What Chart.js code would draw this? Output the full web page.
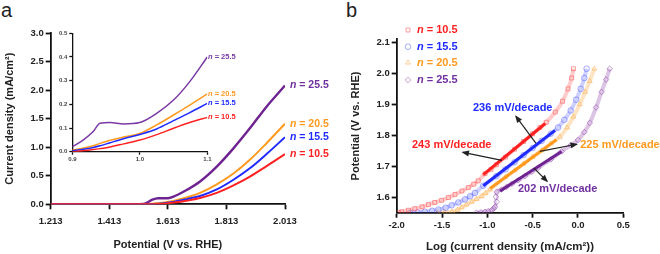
<!DOCTYPE html>
<html>
<head>
<meta charset="utf-8">
<script src="https://cdn.jsdelivr.net/npm/chart.js@4.4.0/dist/chart.umd.min.js"></script>
<style>
body { margin:0; background:#fff; width:660px; height:254px; overflow:hidden; position:relative; font-family:"Liberation Sans", Arial, sans-serif; }
canvas { position:absolute; }
#chart_a { left:0; top:0; }
#chart_inset { left:40px; top:26px; }
#chart_b { left:330px; top:0; }
.panel { position:absolute; font-size:20px; line-height:24px; color:#222; }
</style>
</head>
<body>
<div class="panel" style="left:1px;top:-2px">a</div>
<div class="panel" style="left:346px;top:-2px">b</div>
<canvas id="chart_a" width="330" height="254"></canvas>
<canvas id="chart_inset" width="210" height="140"></canvas>
<canvas id="chart_b" width="330" height="254"></canvas>
<script>
var FONT = '"Liberation Sans", Arial, sans-serif'
Chart.defaults.font.family = FONT
Chart.defaults.color = '#222'

// series names
var nValues = ['10.5', '15.5', '20.5', '25.5']
var cores = ['#ff2121', '#1f2bff', '#ff9a1f', '#6e2390']
var textCores = ['#ff2121', '#1f2bff', '#ff9a1f', '#7030a0']
var coresLight = ['rgba(255,70,70,0.5)', 'rgba(60,70,255,0.45)', 'rgba(255,165,60,0.5)', 'rgba(140,60,170,0.5)']
var bandCores = ['rgba(255,70,70,0.28)', 'rgba(60,70,255,0.25)', 'rgba(255,165,60,0.3)', 'rgba(140,60,170,0.3)']
var markers = ['rect', 'circle', 'triangle', 'rectRot']

// panel a - main (potential V vs RHE, current density mA/cm2)
var potA = [1.213, 1.40, 1.50, 1.53, 1.56, 1.58, 1.61, 1.632, 1.677, 1.723, 1.78, 1.837, 1.893, 1.95, 2.013]
var curA_10 = [0, 0, 0, 0, 0, 0.005, 0.015, 0.03, 0.064, 0.11, 0.2, 0.33, 0.485, 0.67, 0.88]
var curA_15 = [0, 0, 0, 0, 0.003, 0.01, 0.025, 0.04, 0.09, 0.146, 0.26, 0.43, 0.63, 0.88, 1.175]
var curA_20 = [0, 0, 0, 0, 0.008, 0.02, 0.04, 0.06, 0.12, 0.20, 0.35, 0.54, 0.78, 1.07, 1.41]
var curA_25 = [0, 0, 0, 0.005, 0.08, 0.105, 0.105, 0.135, 0.25, 0.40, 0.66, 0.98, 1.33, 1.71, 2.08]
var xTicksA = [1.213, 1.413, 1.613, 1.813, 2.013]
var yTicksA = [0, 0.5, 1.0, 1.5, 2.0, 2.5, 3.0]

// panel a - inset
var potI = [0.9, 0.916, 0.931, 0.941, 0.956, 0.976, 1.0, 1.025, 1.05, 1.074, 1.1]
var curI_10 = [0, 0.004, 0.009, 0.013, 0.02, 0.033, 0.049, 0.072, 0.099, 0.123, 0.145]
var curI_15 = [0.004, 0.01, 0.018, 0.025, 0.038, 0.055, 0.073, 0.096, 0.131, 0.165, 0.204]
var curI_20 = [0.007, 0.015, 0.025, 0.035, 0.048, 0.062, 0.077, 0.113, 0.155, 0.197, 0.244]
var curI_25 = [0.021, 0.049, 0.085, 0.12, 0.123, 0.117, 0.123, 0.162, 0.218, 0.296, 0.4]
var xTicksI = [0.9, 1.0, 1.1]
var yTicksI = [0, 0.1, 0.2, 0.3, 0.4, 0.5]

// panel b - Tafel (log current density, potential)
var logB_10 = [-1.98, -1.945, -1.87, -1.8, -1.72, -1.65, -1.58, -1.504, -1.43, -1.357, -1.28, -1.21, -1.15, -1.1, -1.026, -0.96, -0.9, -0.8, -0.7, -0.6, -0.5, -0.42, -0.35, -0.25, -0.17, -0.11, -0.07, -0.05]
var potB_10 = [1.55, 1.553, 1.558, 1.563, 1.569, 1.576, 1.583, 1.59, 1.599, 1.609, 1.62, 1.631, 1.642, 1.653, 1.676, 1.69, 1.705, 1.73, 1.755, 1.78, 1.805, 1.825, 1.842, 1.875, 1.91, 1.95, 1.985, 2.015]
var logB_15 = [-1.85, -1.77, -1.69, -1.61, -1.54, -1.46, -1.393, -1.32, -1.247, -1.19, -1.136, -1.045, -0.9, -0.8, -0.7, -0.6, -0.5, -0.4, -0.3, -0.22, -0.15, -0.08, -0.02, 0.03, 0.07, 0.095]
var potB_15 = [1.55, 1.551, 1.553, 1.556, 1.56, 1.566, 1.574, 1.583, 1.593, 1.603, 1.614, 1.637, 1.668, 1.69, 1.713, 1.736, 1.759, 1.782, 1.805, 1.825, 1.85, 1.88, 1.915, 1.95, 1.985, 2.015]
var logB_20 = [-1.55, -1.47, -1.39, -1.33, -1.283, -1.23, -1.173, -1.12, -1.063, -1.02, -0.97, -0.8, -0.7, -0.6, -0.5, -0.4, -0.3, -0.2, -0.12, -0.05, 0.02, 0.08, 0.13, 0.18]
var potB_20 = [1.55, 1.551, 1.553, 1.559, 1.567, 1.576, 1.585, 1.594, 1.603, 1.613, 1.625, 1.665, 1.686, 1.708, 1.73, 1.751, 1.773, 1.795, 1.825, 1.86, 1.9, 1.94, 1.975, 2.015]
var logB_25 = [-1.12, -1.07, -1.026, -0.99, -0.953, -0.93, -0.916, -0.897, -0.905, -0.897, -0.842, -0.79, -0.73, -0.66, -0.585, -0.51, -0.44, -0.3, -0.18, -0.08, 0.0, 0.07, 0.13, 0.2, 0.26, 0.31, 0.35]
var potB_25 = [1.55, 1.551, 1.553, 1.555, 1.558, 1.563, 1.569, 1.585, 1.601, 1.617, 1.625, 1.633, 1.643, 1.655, 1.668, 1.682, 1.695, 1.722, 1.748, 1.768, 1.785, 1.81, 1.84, 1.89, 1.94, 1.98, 2.015]
// linear fits (start, end)
var fitLog = [[-1.044, -0.36], [-1.045, -0.253], [-0.97, -0.236], [-0.86, -0.18]]
var fitPot = [[1.673, 1.838], [1.637, 1.816], [1.628, 1.786], [1.62, 1.748]]
var slopes = ['243 mV/decade', '236 mV/decade', '225 mV/decade', '202 mV/decade']
var xTicksB = [-2.0, -1.5, -1.0, -0.5, 0.0, 0.5]
var yTicksB = [1.6, 1.7, 1.8, 1.9, 2.0, 2.1]

// where the slope notes sit (data units)
var notes = [
    { text: [-1.393, 1.768], align: 'center', from: [-0.839, 1.719], to: [-1.269, 1.745] },
    { text: [-0.72, 1.889], align: 'center', from: [-0.463, 1.774], to: [-0.684, 1.861] },
    { text: [0.025, 1.768], align: 'left', from: [-0.42, 1.748], to: [-0.015, 1.771] },
    { text: [-0.224, 1.628], align: 'center', from: [-0.486, 1.694], to: [-0.342, 1.652] }
]

function pts(xs, ys) {
    return xs.map(function(x, i) { return { x: x, y: ys[i] } })
}

function drawN(ctx, x, y, val, color, size) {
    ctx.fillStyle = color
    ctx.textBaseline = 'middle'
    ctx.textAlign = 'left'
    ctx.font = 'italic bold ' + size + 'px ' + FONT
    ctx.fillText('n', x, y)
    var w = ctx.measureText('n').width
    ctx.font = 'bold ' + size + 'px ' + FONT
    ctx.fillText(' = ' + val, x + w, y)
}

function axisStyle(tickLen, width) {
    return {
        grid: { display: true, drawOnChartArea: false, drawTicks: true, tickLength: tickLen, tickWidth: width, color: '#111' },
        border: { display: true, color: '#111', width: width }
    }
}

function setTicks(list) {
    return function(s) { s.ticks = list.map(function(v) { return { value: v } }) }
}

// ---------- panel a ----------
var curA = [curA_10, curA_15, curA_20, curA_25]
var labelsA = {
    id: 'labelsA',
    afterDatasetsDraw: function(chart) {
        var ctx = chart.ctx
        ctx.save()
        curA.forEach(function(c, i) {
            var px = chart.scales.x.getPixelForValue(2.03)
            var py = chart.scales.y.getPixelForValue(c[c.length - 1])
            drawN(ctx, px, py, nValues[i], textCores[i], 10.5)
        })
        ctx.restore()
    }
}

var ga = axisStyle(5, 1.8)
new Chart(document.getElementById('chart_a'), {
    type: 'scatter',
    data: {
        datasets: curA.map(function(c, i) {
            return {
                data: pts(potA, c), showLine: true, borderColor: cores[i], borderWidth: i == 3 ? 2.4 : 2,
                pointRadius: 0, cubicInterpolationMode: 'monotone', fill: false
            }
        })
    },
    options: {
        animation: false, responsive: false,
        layout: { padding: { left: 0, right: 45, top: 33, bottom: 0 } },
        plugins: { legend: { display: false }, tooltip: { enabled: false } },
        scales: {
            x: {
                type: 'linear', min: 1.213, max: 2.013,
                afterBuildTicks: setTicks(xTicksA),
                afterFit: function(s) { s.height = 49.7 },
                ticks: { callback: function(v) { return v.toFixed(3) }, font: { size: 9.5, weight: 'bold' }, padding: 6, maxRotation: 0, color: '#222' },
                title: { display: true, text: 'Potential (V vs. RHE)', font: { size: 11, weight: 'bold' }, padding: { top: 0, bottom: 2.5 }, color: '#222' },
                grid: ga.grid, border: ga.border
            },
            y: {
                type: 'linear', min: 0, max: 3,
                afterBuildTicks: setTicks(yTicksA),
                afterFit: function(s) { s.width = 50.7 },
                ticks: { callback: function(v) { return v.toFixed(1) }, font: { size: 9.5, weight: 'bold' }, padding: 2, color: '#222' },
                title: { display: true, text: 'Current density (mA/cm²)', font: { size: 11, weight: 'bold' }, padding: { top: 3.5, bottom: 0 }, color: '#222' },
                grid: ga.grid, border: ga.border
            }
        }
    },
    plugins: [labelsA]
})

// ---------- inset ----------
var curI = [curI_10, curI_15, curI_20, curI_25]
var labelsI = {
    id: 'labelsI',
    afterDatasetsDraw: function(chart) {
        var ctx = chart.ctx
        ctx.save()
        curI.forEach(function(c, i) {
            var px = chart.scales.x.getPixelForValue(1.101)
            var py = chart.scales.y.getPixelForValue(c[c.length - 1])
            drawN(ctx, px, py, nValues[i], i == 3 ? '#7a3aa5' : cores[i], 7.5)
        })
        ctx.restore()
    }
}
var gi = axisStyle(3, 1.3)
new Chart(document.getElementById('chart_inset'), {
    type: 'scatter',
    data: {
        datasets: curI.map(function(c, i) {
            return {
                data: pts(potI, c), showLine: true, borderColor: i == 3 ? '#7a3aa5' : cores[i], borderWidth: 1.5,
                pointRadius: 0, cubicInterpolationMode: 'monotone', fill: false
            }
        })
    },
    options: {
        animation: false, responsive: false,
        layout: { padding: { left: 0, right: 42.7, top: 7.3, bottom: 0 } },
        plugins: { legend: { display: false }, tooltip: { enabled: false } },
        scales: {
            x: {
                type: 'linear', min: 0.9, max: 1.1,
                afterBuildTicks: setTicks(xTicksI),
                afterFit: function(s) { s.height = 14.3 },
                ticks: { callback: function(v) { return v.toFixed(1) }, font: { size: 6, weight: 'bold' }, padding: 1, maxRotation: 0, color: '#444' },
                grid: gi.grid, border: gi.border
            },
            y: {
                type: 'linear', min: 0, max: 0.5,
                afterBuildTicks: setTicks(yTicksI),
                afterFit: function(s) { s.width = 32.3 },
                ticks: { callback: function(v) { return v.toFixed(1) }, font: { size: 6, weight: 'bold' }, padding: 2, color: '#444' },
                grid: gi.grid, border: gi.border
            }
        }
    },
    plugins: [labelsI]
})

// ---------- panel b ----------
var logB = [logB_10, logB_15, logB_20, logB_25]
var potB = [potB_10, potB_15, potB_20, potB_25]
var notesB = {
    id: 'notesB',
    afterDatasetsDraw: function(chart) {
        var ctx = chart.ctx, sx = chart.scales.x, sy = chart.scales.y
        ctx.save()
        notes.forEach(function(n, i) {
            var x0 = sx.getPixelForValue(n.from[0]), y0 = sy.getPixelForValue(n.from[1])
            var x1 = sx.getPixelForValue(n.to[0]), y1 = sy.getPixelForValue(n.to[1])
            ctx.strokeStyle = '#222'
            ctx.fillStyle = '#222'
            ctx.lineWidth = 1.2
            ctx.beginPath()
            ctx.moveTo(x0, y0)
            ctx.lineTo(x1, y1)
            ctx.stroke()
            var a = Math.atan2(y1 - y0, x1 - x0)
            ctx.beginPath()
            ctx.moveTo(x1 + 1.5 * Math.cos(a), y1 + 1.5 * Math.sin(a))
            ctx.lineTo(x1 - 6 * Math.cos(a) + 3 * Math.sin(a), y1 - 6 * Math.sin(a) - 3 * Math.cos(a))
            ctx.lineTo(x1 - 6 * Math.cos(a) - 3 * Math.sin(a), y1 - 6 * Math.sin(a) + 3 * Math.cos(a))
            ctx.closePath()
            ctx.fill()
            ctx.font = 'bold 11px ' + FONT
            ctx.textAlign = n.align
            ctx.textBaseline = 'middle'
            ctx.fillStyle = textCores[i]
            ctx.fillText(slopes[i], sx.getPixelForValue(n.text[0]), sy.getPixelForValue(n.text[1]))
        })
        // legend
        var rows = [30, 46.7, 62.7, 80]
        rows.forEach(function(ry, i) {
            ctx.strokeStyle = coresLight[i]
            ctx.fillStyle = 'rgba(0,0,0,0)'
            ctx.lineWidth = 1
            Chart.helpers.drawPoint(ctx, { pointStyle: markers[i], radius: 2.8, borderWidth: 1, rotation: 0 }, 78, ry)
            drawN(ctx, 87, ry, nValues[i], textCores[i], 11)
        })
        ctx.restore()
    }
}

var dsB = []
logB.forEach(function(l, i) {
    dsB.push({
        data: pts(l, potB[i]), showLine: true, borderColor: bandCores[i], borderWidth: 4,
        pointStyle: markers[i], pointRadius: 2.8, pointBorderWidth: 1, pointBorderColor: coresLight[i],
        pointBackgroundColor: 'rgba(255,255,255,0)', cubicInterpolationMode: 'monotone', fill: false, order: 2
    })
})
fitLog.forEach(function(f, i) {
    dsB.push({
        data: pts(f, fitPot[i]), showLine: true, borderColor: cores[i], borderWidth: 3,
        pointRadius: 0, fill: false, order: 1
    })
})

var gb = axisStyle(5, 1.8)
new Chart(document.getElementById('chart_b'), {
    type: 'scatter',
    data: { datasets: dsB },
    options: {
        animation: false, responsive: false,
        layout: { padding: { left: 0, right: 36.7, top: 39.3, bottom: 0 } },
        plugins: { legend: { display: false }, tooltip: { enabled: false } },
        scales: {
            x: {
                type: 'linear', min: -2, max: 0.5,
                afterBuildTicks: setTicks(xTicksB),
                afterFit: function(s) { s.height = 41.3 },
                ticks: { callback: function(v) { return v.toFixed(1) }, font: { size: 9.5, weight: 'bold' }, padding: 2, maxRotation: 0, color: '#222' },
                title: { display: true, text: 'Log (current density (mA/cm²))', font: { size: 11.5, weight: 'bold' }, padding: { top: 0, bottom: 0.5 }, color: '#222' },
                grid: gb.grid, border: gb.border
            },
            y: {
                type: 'linear', min: 1.55, max: 2.11,
                afterBuildTicks: setTicks(yTicksB),
                afterFit: function(s) { s.width = 66.7 },
                ticks: { callback: function(v) { return v.toFixed(1) }, font: { size: 9.5, weight: 'bold' }, padding: 2, color: '#222' },
                title: { display: true, text: 'Potential (V vs. RHE)', font: { size: 11, weight: 'bold' }, padding: { top: 19.5, bottom: 0 }, color: '#222' },
                grid: gb.grid, border: gb.border
            }
        }
    },
    plugins: [notesB]
})
</script>
</body>
</html>
